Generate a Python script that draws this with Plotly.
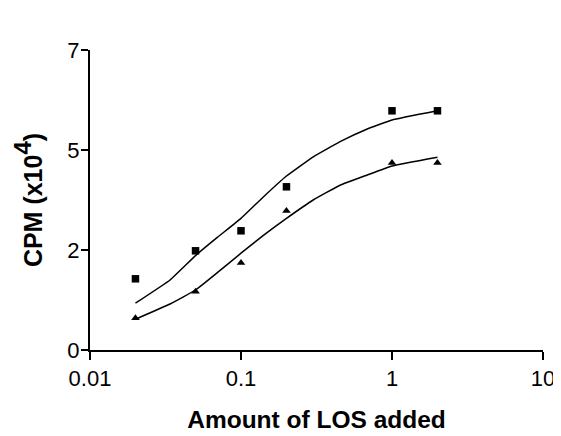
import plotly.graph_objects as go

# Data
los_amount = [0.02, 0.05, 0.1, 0.2, 1, 2]
cpm_squares = [1.78, 2.48, 2.98, 4.08, 5.98, 5.98]
cpm_triangles = [0.8, 1.46, 2.18, 3.48, 4.68, 4.68]

# Fitted curves
curve_x = [0.02, 0.0339, 0.05, 0.07, 0.1, 0.14, 0.2, 0.301, 0.453, 0.68, 1, 2]
curve_top = [1.17, 1.75, 2.36, 2.82, 3.29, 3.82, 4.35, 4.83, 5.21, 5.52, 5.75, 5.98]
curve_bottom = [0.77, 1.15, 1.5, 1.94, 2.42, 2.86, 3.29, 3.75, 4.12, 4.37, 4.6, 4.82]

y_tickvals = [0, 2.5, 5, 7.5]
y_ticktext = ["0", "2", "5", "7"]
x_tickvals = [0.01, 0.1, 1, 10]
x_ticktext = ["0.01", "0.1", "1", "10"]

fig = go.Figure()
for cy in (curve_top, curve_bottom):
    fig.add_trace(go.Scatter(x=curve_x, y=cy, mode="lines",
                             line=dict(color="black", width=1.5, shape="spline", smoothing=0.3),
                             showlegend=False, hoverinfo="skip"))
fig.add_trace(go.Scatter(x=los_amount, y=cpm_squares, mode="markers",
                         marker=dict(symbol="square", size=7.5, color="black"),
                         showlegend=False))
fig.add_trace(go.Scatter(x=los_amount, y=cpm_triangles, mode="markers",
                         marker=dict(symbol="triangle-up", size=7.5, color="black"),
                         showlegend=False))

font_family = "Liberation Sans, Arial, sans-serif"

# page body has an 8px margin, so the figure is offset by 8px
fig.update_layout(
    width=553, height=428,
    margin=dict(l=82, r=18, t=42, b=86),
    paper_bgcolor="white", plot_bgcolor="white",
    font=dict(family=font_family, color="black", size=22),
    xaxis=dict(
        type="log", range=[-2, 1], automargin=False,
        tickvals=x_tickvals, ticktext=x_ticktext,
        ticks="outside", ticklen=8, tickwidth=2, tickcolor="black",
        showline=True, linecolor="black", linewidth=2,
        showgrid=False, zeroline=False,
        tickfont=dict(size=22, family=font_family),
        title=dict(text="<b>Amount of LOS added</b>", font=dict(size=24.5, family=font_family), standoff=20),
    ),
    yaxis=dict(
        range=[0, 7.5], automargin=False,
        tickvals=y_tickvals, ticktext=y_ticktext,
        ticks="outside", ticklen=7, tickwidth=2, tickcolor="black",
        ticklabelstandoff=-3,
        showline=True, linecolor="black", linewidth=2,
        showgrid=False, zeroline=False,
        tickfont=dict(size=22, family=font_family),
        title=dict(text="<b>CPM (x10<sup><span style=\"font-size:24px\">4</span></sup>)</b>",
                   font=dict(size=25, family=font_family), standoff=18),
    ),
)

fig.write_html("out.html")
